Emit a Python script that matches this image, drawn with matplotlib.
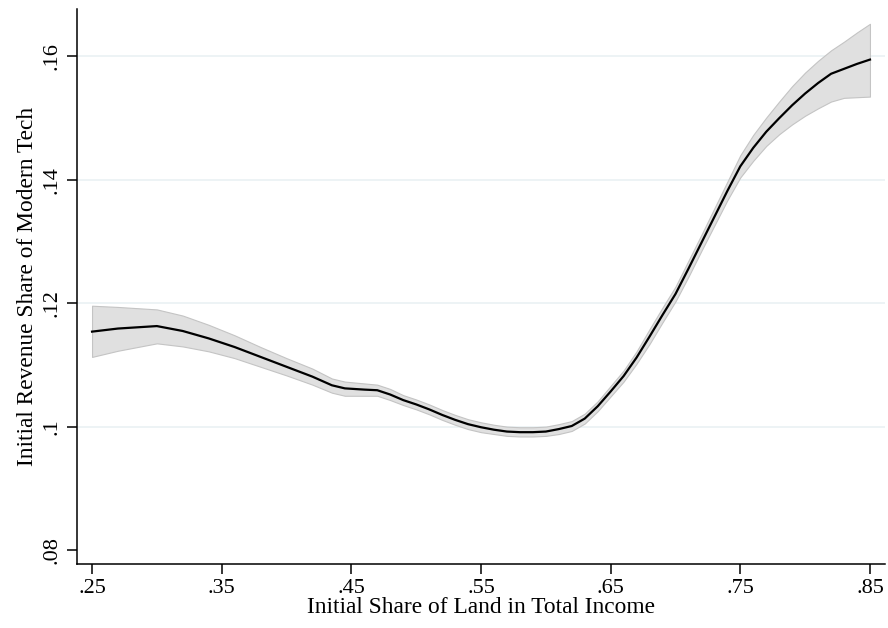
import matplotlib
matplotlib.use('Agg')
import matplotlib.pyplot as plt
import numpy as np

# values
land_share = [0.25, 0.27, 0.30, 0.32, 0.34, 0.36, 0.38, 0.40, 0.42, 0.435,
              0.445, 0.46, 0.47, 0.48, 0.49, 0.50, 0.51, 0.52, 0.53, 0.54,
              0.55, 0.56, 0.57, 0.58, 0.59, 0.60, 0.61, 0.62, 0.63, 0.64,
              0.65, 0.66, 0.67, 0.68, 0.69, 0.70, 0.71, 0.72, 0.73, 0.74,
              0.75, 0.76, 0.77, 0.78, 0.79, 0.80, 0.81, 0.82, 0.83, 0.84, 0.85]
fit = [0.1154, 0.1159, 0.1163, 0.1155, 0.1143, 0.1129, 0.1113, 0.1097, 0.1081, 0.1067,
       0.1062, 0.1060, 0.1059, 0.1052, 0.1043, 0.1036, 0.1028, 0.1019, 0.1011, 0.1004,
       0.0999, 0.0995, 0.0992, 0.0991, 0.0991, 0.0992, 0.0996, 0.1001, 0.1013, 0.1033,
       0.1057, 0.1082, 0.1112, 0.1146, 0.1181, 0.1215, 0.1256, 0.1298, 0.1340, 0.1382,
       0.1422, 0.1452, 0.1478, 0.1500, 0.1521, 0.1540, 0.1557, 0.1572, 0.1580, 0.1588, 0.1595]
ci_low = [0.1113, 0.1123, 0.1135, 0.1130, 0.1122, 0.1111, 0.1097, 0.1083, 0.1068, 0.1055,
          0.1050, 0.1050, 0.1050, 0.1043, 0.1035, 0.1028, 0.1020, 0.1011, 0.1003, 0.0996,
          0.0991, 0.0988, 0.0985, 0.0984, 0.0984, 0.0985, 0.0988, 0.0993, 0.1005, 0.1025,
          0.1049, 0.1073, 0.1102, 0.1134, 0.1169, 0.1203, 0.1243, 0.1285, 0.1326, 0.1367,
          0.1404, 0.1431, 0.1455, 0.1474, 0.1490, 0.1504, 0.1516, 0.1527, 0.1533, 0.1534, 0.1535]
ci_high = [0.1196, 0.1194, 0.1190, 0.1180, 0.1165, 0.1148, 0.1129, 0.1111, 0.1094, 0.1078,
           0.1073, 0.1070, 0.1068, 0.1061, 0.1051, 0.1044, 0.1036, 0.1027, 0.1019, 0.1012,
           0.1007, 0.1003, 0.1000, 0.0999, 0.0999, 0.1000, 0.1004, 0.1009, 0.1021, 0.1041,
           0.1066, 0.1091, 0.1122, 0.1158, 0.1193, 0.1227, 0.1269, 0.1311, 0.1354, 0.1397,
           0.1440, 0.1473, 0.1501, 0.1527, 0.1552, 0.1574, 0.1593, 0.1610, 0.1624, 0.1639, 0.1653]

x_ticks = [0.25, 0.35, 0.45, 0.55, 0.65, 0.75, 0.85]
x_labels = ['.25', '.35', '.45', '.55', '.65', '.75', '.85']
y_ticks = [0.08, 0.10, 0.12, 0.14, 0.16]
y_labels = ['.08', '.1', '.12', '.14', '.16']

plt.rcParams['font.family'] = ['Liberation Serif', 'DejaVu Serif']

fig = plt.figure(figsize=(8.88, 6.28), dpi=100)
ax = fig.add_axes([77 / 888, (628 - 564) / 628, 808 / 888, 555 / 628])

# light grid lines (none at the bottom tick)
for yv in y_ticks[1:]:
    ax.axhline(yv, color='#eaf1f3', linewidth=1.2, zorder=0)

ax.fill_between(land_share, ci_low, ci_high, facecolor='#e0e0e0',
                edgecolor='#c4c4c4', linewidth=0.8, zorder=1)
ax.plot(land_share, fit, color='black', linewidth=1.6, zorder=2)

ax.set_xlim(0.2384, 0.8616)
ax.set_ylim(0.07773, 0.1677)
ax.set_xticks(x_ticks)
ax.set_xticklabels(x_labels)
ax.set_yticks(y_ticks)
ax.set_yticklabels(y_labels, rotation=90, va='center')

ax.spines['top'].set_visible(False)
ax.spines['right'].set_visible(False)
for s in ('left', 'bottom'):
    ax.spines[s].set_linewidth(1.1)
ax.tick_params(axis='both', direction='out', length=7, width=1.1,
               labelsize=16, pad=4)

ax.set_xlabel('Initial Share of Land in Total Income', fontsize=16.8)
ax.set_ylabel('Initial Revenue Share of Modern Tech', fontsize=16.8)
ax.xaxis.set_label_coords(0.5, -0.059)
ax.yaxis.set_label_coords(-0.048, 0.5)

fig.savefig('out.png', dpi=100)
